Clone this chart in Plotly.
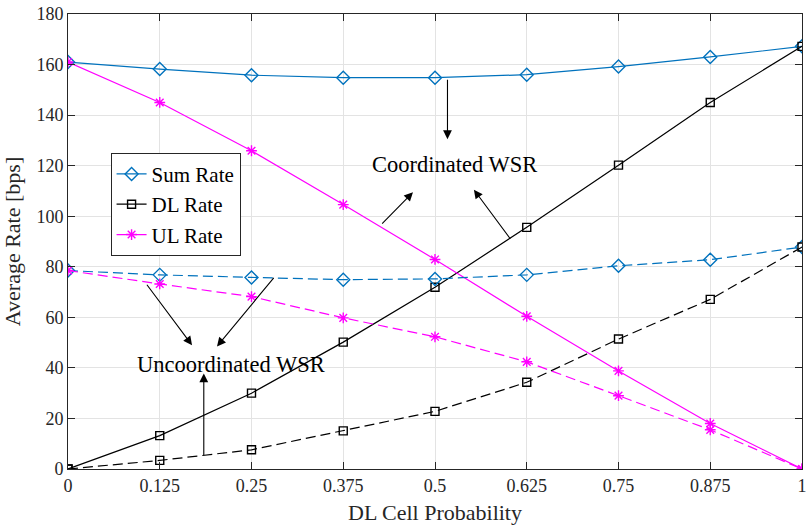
import plotly.graph_objects as go

# DL cell probability (x axis)
dl_prob = [0, 0.125, 0.25, 0.375, 0.5, 0.625, 0.75, 0.875, 1]
tick_text = ["0", "0.125", "0.25", "0.375", "0.5", "0.625", "0.75", "0.875", "1"]

# Coordinated scheme (solid lines)
sum_coord = [161.0, 158.2, 155.8, 154.8, 154.8, 156.0, 159.2, 163.0, 167.2]
dl_coord = [0.0, 13.2, 30.0, 50.2, 71.9, 95.6, 120.2, 145.0, 167.2]
ul_coord = [161.0, 145.0, 125.9, 104.6, 82.9, 60.4, 38.8, 18.0, 0.0]

# Uncoordinated scheme (dashed lines)
sum_uncoord = [78.5, 76.8, 75.8, 74.9, 75.2, 76.8, 80.4, 82.8, 87.8]
dl_uncoord = [0.0, 3.4, 7.6, 15.1, 22.8, 34.3, 51.4, 67.1, 87.8]
ul_uncoord = [78.5, 73.2, 68.2, 59.8, 52.3, 42.4, 29.0, 15.5, 0.0]

BLUE = "#0072BD"
BLACK = "#000000"
MAGENTA = "#FF00FF"
FONT = "Liberation Serif, Times New Roman, serif"

fig = go.Figure()

series = [
    ("Sum Rate", sum_coord, sum_uncoord, BLUE, "diamond-open", 10),
    ("DL Rate", dl_coord, dl_uncoord, BLACK, "square-open", 8),
    ("UL Rate", ul_coord, ul_uncoord, MAGENTA, "asterisk-open", 9),
]

for name, solid, dashed, color, symbol, msize in series:
    fig.add_trace(go.Scatter(
        x=dl_prob, y=solid, mode="lines+markers", name=name,
        line=dict(color=color, width=1.2),
        marker=dict(symbol=symbol, size=msize, color=color,
                    line=dict(color=color, width=1.4)),
    ))
for name, solid, dashed, color, symbol, msize in series:
    fig.add_trace(go.Scatter(
        x=dl_prob, y=dashed, mode="lines+markers", name=name,
        showlegend=False,
        line=dict(color=color, width=1.2, dash="10px,5px"),
        marker=dict(symbol=symbol, size=msize, color=color,
                    line=dict(color=color, width=1.4)),
    ))

# Arrows (tail -> head) and their labels
arrows = [
    ((0.517, 154.6), (0.517, 130.5)),
    ((0.426, 96.5), (0.470, 109.5)),
    ((0.604, 90.5), (0.553, 110.5)),
    ((0.106, 73.5), (0.169, 49.0)),
    ((0.282, 76.2), (0.203, 48.5)),
    ((0.185, 4.8), (0.185, 37.8)),
]
for (tx, ty), (hx, hy) in arrows:
    fig.add_annotation(
        x=hx, y=hy, ax=tx, ay=ty, xref="x", yref="y", axref="x", ayref="y",
        text="", showarrow=True, arrowhead=2, arrowsize=1.6, arrowwidth=1.1,
        arrowcolor="#000000", standoff=0, startstandoff=0,
    )

fig.add_annotation(x=0.527, y=120.4, xref="x", yref="y", text="Coordinated WSR",
                   showarrow=False, font=dict(family=FONT, size=22.5, color="#000000"))
fig.add_annotation(x=0.2215, y=41.2, xref="x", yref="y", text="Uncoordinated WSR",
                   showarrow=False, font=dict(family=FONT, size=22.5, color="#000000"))

axis_common = dict(
    showline=True, linecolor="#262626", linewidth=1, mirror="allticks",
    ticks="inside", ticklen=7, tickcolor="#262626", tickwidth=1,
    showgrid=True, gridcolor="#e3e3e3", gridwidth=1, zeroline=False,
    tickfont=dict(family=FONT, size=18, color="#262626"),
)

fig.update_layout(
    width=811, height=528,
    margin=dict(l=68, r=4, t=10, b=59),
    paper_bgcolor="white", plot_bgcolor="white",
    font=dict(family=FONT, color="#262626"),
    xaxis=dict(range=[0, 1], tickvals=dl_prob, ticktext=tick_text,
               title=dict(text="DL Cell Probability", font=dict(family=FONT, size=22, color="#262626"), standoff=10),
               **axis_common),
    yaxis=dict(range=[0, 180], dtick=20,
               title=dict(text="Average Rate [bps]", font=dict(family=FONT, size=22, color="#262626"), standoff=12),
               **axis_common),
    legend=dict(x=0.058, y=0.695, xanchor="left", yanchor="top",
                bgcolor="white", bordercolor="#262626", borderwidth=1,
                font=dict(family=FONT, size=21, color="#000000"),
                tracegroupgap=0, itemwidth=30),
    showlegend=True,
)

fig.write_html("out.html")
